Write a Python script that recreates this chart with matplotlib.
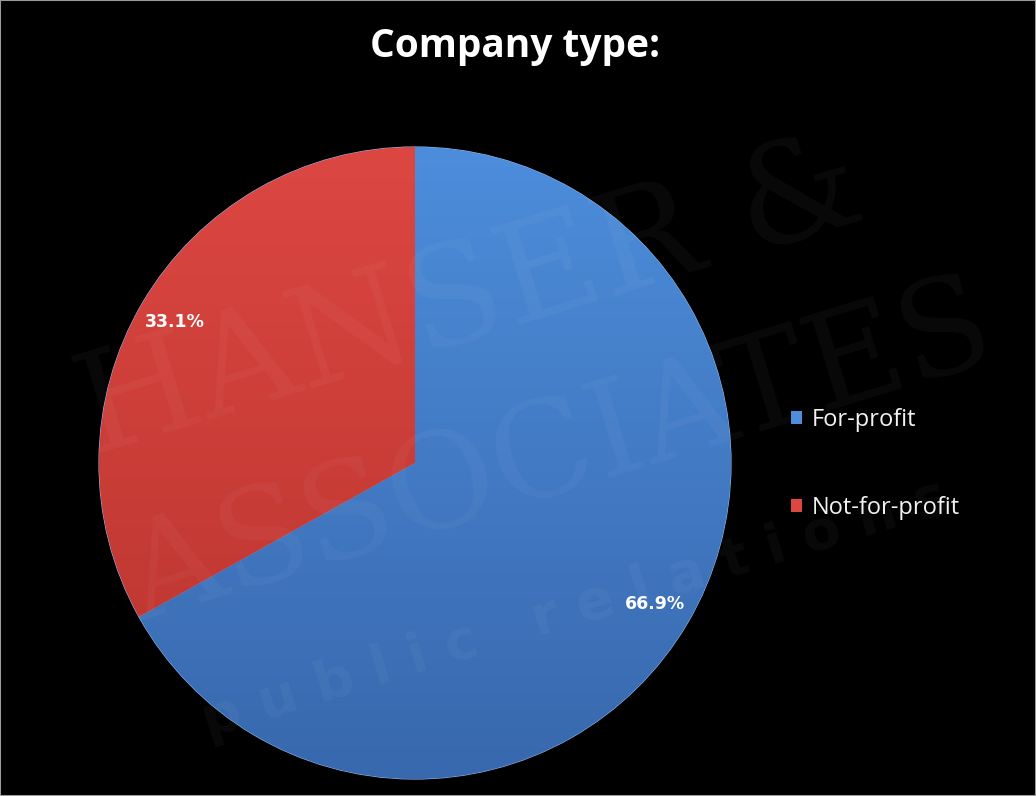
import matplotlib.pyplot as plt
import numpy as np
from matplotlib.patches import Patch, Rectangle
from matplotlib.colors import LinearSegmentedColormap

labels = ['For-profit', 'Not-for-profit']
shares = [66.9, 33.1]
top_colors = ['#4d8ddb', '#dc4742']
bottom_colors = ['#3868ad', '#b8332d']

W, H = 1036, 796
fig = plt.figure(figsize=(W / 100, H / 100), dpi=100, facecolor='black')
ax = fig.add_axes([0, 0, 1, 1])

cx, cy, r = 415, H - 463, 316

wedges, texts, autotexts = ax.pie(
    shares, colors=top_colors, startangle=90, counterclock=False,
    center=(cx, cy), radius=r, autopct='%.1f%%', pctdistance=0.88,
    wedgeprops=dict(edgecolor='#8bb8ec', linewidth=0.8),
    textprops=dict(color='white', fontsize=12.5, fontweight='bold',
                   family='DejaVu Sans'),
    frame=True)
ax.set_xlim(0, W)
ax.set_ylim(0, H)
ax.set_aspect('auto')
ax.set_facecolor('black')
ax.axis('off')

# vertical shading inside each slice
for w, c0, c1 in zip(wedges, top_colors, bottom_colors):
    cmap = LinearSegmentedColormap.from_list('g', [c1, c0])
    grad = np.linspace(0, 1, 256).reshape(-1, 1)
    im = ax.imshow(grad, cmap=cmap, origin='lower', aspect='auto',
                   extent=(cx - r, cx + r, cy - r, cy + r), zorder=1.5)
    im.set_clip_path(w)
for t in autotexts:
    t.set_zorder(5)

# faint watermark
wm = dict(color='white', alpha=0.04, rotation=17, ha='center', va='center',
          zorder=6)
ax.text(470, H - 300, 'HANSER &', fontsize=100, family='DejaVu Serif', **wm)
ax.text(560, H - 455, 'ASSOCIATES', fontsize=95, family='DejaVu Serif', **wm)
ax.text(575, H - 610, 'p u b l i c   r e l a t i o n s', fontsize=40,
        fontweight='bold', family='DejaVu Sans', **wm)

fig.text(0.497, 1 - 46 / H, 'Company type:', color='white', fontsize=28,
         fontweight='bold', family='Open Sans', ha='center', va='center')

handles = [Patch(facecolor=c, edgecolor='none') for c in top_colors]
leg = fig.legend(handles, labels, loc='center left',
                 bbox_to_anchor=(791 / W, 1 - 464 / H), frameon=False,
                 handlelength=0.45, handleheight=0.45, handletextpad=0.45,
                 labelspacing=2.7, borderpad=0, borderaxespad=0,
                 prop=dict(family='Open Sans', size=17))
for t in leg.get_texts():
    t.set_color('#f2f2f2')

fig.patches.append(Rectangle((0, 0), 1, 1, transform=fig.transFigure,
                             fill=False, edgecolor='#9a9a9a', linewidth=1.5))

fig.savefig('out.png', dpi=100, facecolor='black')
